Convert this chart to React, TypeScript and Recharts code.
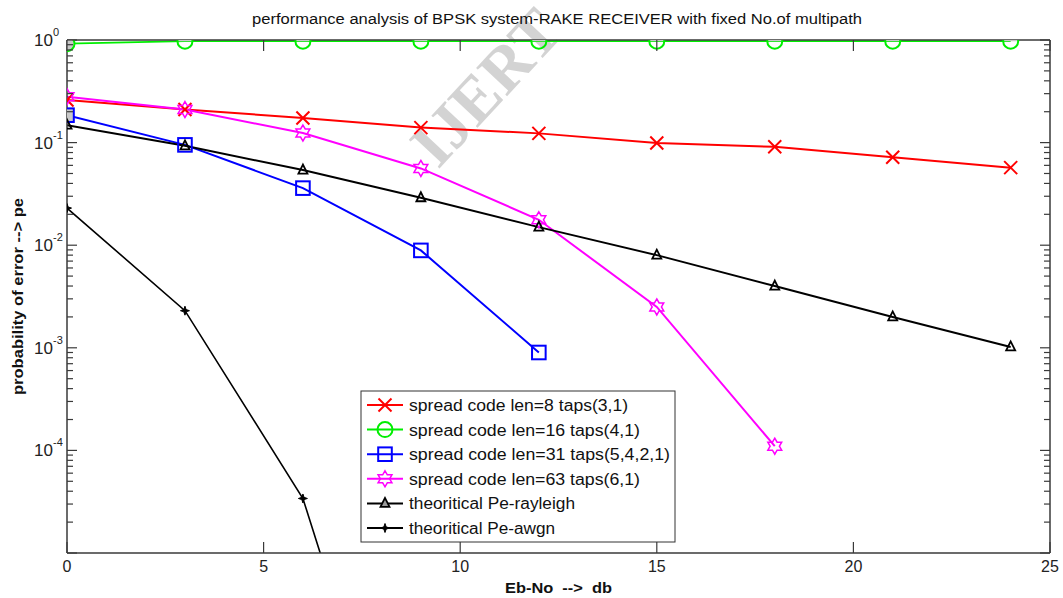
import { LineChart, Line, XAxis, YAxis } from 'recharts'

// Eb/No points (dB)
const ebNo = [0, 3, 6, 9, 12, 15, 18, 21, 24]

// probability of error
const len8 = [0.26, 0.21, 0.174, 0.14, 0.123, 0.099, 0.091, 0.072, 0.057]
const len16 = [0.92, 0.975, 0.975, 0.975, 0.975, 0.975, 0.975, 0.975, 0.975]
const len31 = [0.185, 0.095, 0.036, 0.0089, 0.0009, null, null, null, null]
const len63 = [0.28, 0.21, 0.124, 0.056, 0.0177, 0.0025, 0.00011, null, null]
const rayleigh = [0.148, 0.093, 0.054, 0.029, 0.015, 0.008, 0.004, 0.002, 0.00102]
const awgn = [0.023, 0.0023, 0.000034, 0.000000008, null, null, null, null, null]

const xTicks = [0, 5, 10, 15, 20, 25]
const decades = [-5, -4, -3, -2, -1, 0]
const labelledDecades = [-4, -3, -2, -1, 0]
const yTicks: number[] = []
decades.forEach((d) => {
  yTicks.push(Math.pow(10, d))
  if (d < 0) for (let m = 2; m <= 9; m++) yTicks.push(m * Math.pow(10, d))
})

const data = ebNo.map((x, i) => ({
  x,
  len8: len8[i],
  len16: len16[i],
  len31: len31[i],
  len63: len63[i],
  rayleigh: rayleigh[i],
  awgn: awgn[i],
}))

const FONT = '"Liberation Sans", Arial, Helvetica, sans-serif'
const AXIS = '#3a3a3a'
const PLOT_BOTTOM = 553

const isDecade = (v: number) => Math.abs(Math.log10(v) - Math.round(Math.log10(v))) < 1e-6

function Marker({ kind, cx, cy, color, idx }: any) {
  if (kind === 'x') {
    const s = 6.5
    return (
      <g stroke={color} strokeWidth={2}>
        <line x1={cx - s} y1={cy - s} x2={cx + s} y2={cy + s} />
        <line x1={cx - s} y1={cy + s} x2={cx + s} y2={cy - s} />
      </g>
    )
  }
  if (kind === 'o') {
    const r = 7.5
    return (
      <g>
        {idx === 0 ? (
          <circle cx={cx} cy={cy} r={r} fill="#c8c8c8" />
        ) : idx !== undefined ? (
          <path d={`M${cx - r},${cy} A${r},${r} 0 0 1 ${cx + r},${cy} Z`} fill="#c8c8c8" />
        ) : null}
        <circle cx={cx} cy={cy} r={r} fill="none" stroke={color} strokeWidth={2} />
      </g>
    )
  }
  if (kind === 's') {
    const s = 6.8
    return (
      <rect x={cx - s} y={cy - s} width={2 * s} height={2 * s} fill={idx === 0 ? '#c8c8c8' : 'none'} stroke={color} strokeWidth={2} />
    )
  }
  if (kind === 'h') {
    const r = 8
    const pts: string[] = []
    for (let k = 0; k < 12; k++) {
      const rr = k % 2 === 0 ? r : r * 0.58
      const a = (k * 30 * Math.PI) / 180
      pts.push(`${cx + rr * Math.sin(a)},${cy - rr * Math.cos(a)}`)
    }
    return <polygon points={pts.join(' ')} fill="none" stroke={color} strokeWidth={1.5} />
  }
  if (kind === '^') {
    const s = 4.5
    return (
      <polygon
        points={`${cx},${cy - s - 1} ${cx - s},${cy + s - 1} ${cx + s},${cy + s - 1}`}
        fill={idx === undefined ? '#9a9a9a' : 'none'}
        stroke={color}
        strokeWidth={1.8}
      />
    )
  }
  // small filled star for awgn
  const pts: string[] = []
  for (let k = 0; k < 8; k++) {
    const rr = k % 2 === 0 ? 4.5 : 1.6
    const a = (k * 45 * Math.PI) / 180
    pts.push(`${cx + rr * Math.sin(a)},${cy - rr * Math.cos(a)}`)
  }
  return <polygon points={pts.join(' ')} fill={color} stroke={color} strokeWidth={1} />
}

const dotFor = (kind: string, color: string) => (props: any) => {
  const { cx, cy, index } = props
  if (cx == null || cy == null || isNaN(cy) || cy > PLOT_BOTTOM + 2) return <g key={`d-${kind}-${index}`} />
  return (
    <g key={`d-${kind}-${index}`}>
      <Marker kind={kind} cx={cx} cy={cy} color={color} idx={index} />
    </g>
  )
}

// legend text widths follow the (horizontally stretched) reference
const series = [
  { key: 'len8', name: 'spread code len=8 taps(3,1)', color: '#ff0000', kind: 'x', width: 2, tl: 219 },
  { key: 'len16', name: 'spread code len=16 taps(4,1)', color: '#00ee00', kind: 'o', width: 1.8, tl: 231 },
  { key: 'len31', name: 'spread code len=31 taps(5,4,2,1)', color: '#0000ff', kind: 's', width: 2, tl: 261 },
  { key: 'len63', name: 'spread code len=63 taps(6,1)', color: '#ff00ff', kind: 'h', width: 2, tl: 231 },
  { key: 'rayleigh', name: 'theoritical Pe-rayleigh', color: '#000000', kind: '^', width: 2, tl: 166 },
  { key: 'awgn', name: 'theoritical Pe-awgn', color: '#000000', kind: '*', width: 1.6, tl: 146 },
]

function LeftTick({ x, y, payload }: any) {
  const v = payload.value
  const major = isDecade(v)
  const d = Math.round(Math.log10(v))
  return (
    <g>
      <line x1={x} y1={y} x2={x + (major ? 10 : 6)} y2={y} stroke={AXIS} strokeWidth={1.2} />
      {major && labelledDecades.includes(d) ? (
        <text fontFamily={FONT} fill="#222">
          <tspan x={53} y={y + 6} textAnchor="end" fontSize={17}>10</tspan>
          <tspan x={53} y={y - 4} fontSize={11}>{d}</tspan>
        </text>
      ) : null}
    </g>
  )
}

function RightTick({ x, y, payload }: any) {
  const major = isDecade(payload.value)
  return <line x1={x} y1={y} x2={x - (major ? 10 : 6)} y2={y} stroke={AXIS} strokeWidth={1.2} />
}

function BottomTick({ x, y, payload }: any) {
  return (
    <g>
      <line x1={x} y1={y} x2={x} y2={y - 11} stroke={AXIS} strokeWidth={1.2} />
      <text x={x} y={y + 19} textAnchor="middle" fontFamily={FONT} fontSize={16} fill="#222">
        {payload.value}
      </text>
    </g>
  )
}

function TopTick({ x, y }: any) {
  return <line x1={x} y1={y} x2={x} y2={y + 11} stroke={AXIS} strokeWidth={1.2} />
}

export default function App() {
  return (
    <div style={{ position: 'absolute', left: 0, top: 0, width: 1063, height: 598, background: '#fff', fontFamily: FONT }}>
      {/* watermark */}
      <svg width={1063} height={598} style={{ position: 'absolute', left: 0, top: 0 }}>
        <text
          x={438}
          y={170}
          transform="rotate(-47 438 170)"
          fontFamily='"Liberation Serif", "Times New Roman", serif'
          fontWeight="bold"
          fontSize={64}
          fill="#c4c4c4"
          fillOpacity={0.75}
        >
          IJERT
        </text>
      </svg>

      <div style={{ position: 'absolute', left: 0, top: 0 }}>
        <LineChart width={1063} height={598} data={data} margin={{ top: 39, right: 0, bottom: 0, left: 0 }}>
          <XAxis
            xAxisId="b"
            dataKey="x"
            type="number"
            domain={[0, 25]}
            ticks={xTicks}
            height={45}
            tickLine={false}
            tickSize={0}
            tickMargin={0}
            tick={<BottomTick />}
            axisLine={{ stroke: AXIS, strokeWidth: 1.5 }}
            allowDataOverflow
          />
          <XAxis
            xAxisId="t"
            orientation="top"
            dataKey="x"
            type="number"
            domain={[0, 25]}
            ticks={xTicks}
            height={1}
            tickLine={false}
            tickSize={0}
            tickMargin={0}
            tick={<TopTick />}
            axisLine={{ stroke: AXIS, strokeWidth: 1.5 }}
            allowDataOverflow
          />
          <YAxis
            yAxisId="l"
            scale="log"
            type="number"
            domain={[1e-5, 1]}
            ticks={yTicks}
            interval={0}
            width={67}
            tickLine={false}
            tickSize={0}
            tickMargin={0}
            tick={<LeftTick />}
            axisLine={{ stroke: AXIS, strokeWidth: 1.5 }}
            allowDataOverflow
          />
          <YAxis
            yAxisId="r"
            orientation="right"
            scale="log"
            type="number"
            domain={[1e-5, 1]}
            ticks={yTicks}
            interval={0}
            width={13}
            tickLine={false}
            tickSize={0}
            tickMargin={0}
            tick={<RightTick />}
            axisLine={{ stroke: AXIS, strokeWidth: 1.5 }}
            allowDataOverflow
          />
          {series.map((s) => (
            <Line
              key={s.key}
              xAxisId="b"
              yAxisId="l"
              dataKey={s.key}
              name={s.name}
              type="linear"
              stroke={s.color}
              strokeWidth={s.width}
              dot={dotFor(s.kind, s.color)}
              activeDot={false}
              connectNulls={false}
              isAnimationActive={false}
            />
          ))}
          {/* series on the secondary axes keep them alive, drawn invisibly */}
          <Line xAxisId="t" yAxisId="r" dataKey="rayleigh" stroke="none" dot={false} activeDot={false} isAnimationActive={false} legendType="none" />
        </LineChart>
      </div>

      {/* title, axis labels, legend */}
      <svg width={1063} height={598} style={{ position: 'absolute', left: 0, top: 0, pointerEvents: 'none' }}>
        <text x={252} y={24} textLength={610} lengthAdjust="spacingAndGlyphs" fontFamily={FONT} fontSize={14} fill="#111">
          performance analysis of BPSK system-RAKE RECEIVER with fixed No.of multipath
        </text>
        <text x={505} y={593} textLength={107} lengthAdjust="spacingAndGlyphs" fontFamily={FONT} fontSize={15} fontWeight="bold" fill="#111">
          {'Eb-No\u00a0\u00a0--> \u00a0db'}
        </text>
        <text
          x={23}
          y={395}
          transform="rotate(-90 23 395)"
          textLength={197}
          lengthAdjust="spacingAndGlyphs"
          fontFamily={FONT}
          fontSize={15}
          fontWeight="bold"
          fill="#111"
        >
          probability of error --&gt; pe
        </text>

        <rect x={361} y={391} width={314} height={151} fill="#fff" stroke="#333" strokeWidth={1} />
        {series.map((s, i) => {
          const y = 405 + i * 24.6
          return (
            <g key={s.key}>
              <line x1={367} y1={y} x2={403} y2={y} stroke={s.color} strokeWidth={2} />
              <Marker kind={s.kind} cx={385} cy={y} color={s.color} />
              <text x={409} y={y + 6} textLength={s.tl} lengthAdjust="spacingAndGlyphs" fontFamily={FONT} fontSize={16} fill="#111">
                {s.name}
              </text>
            </g>
          )
        })}
      </svg>
    </div>
  )
}
